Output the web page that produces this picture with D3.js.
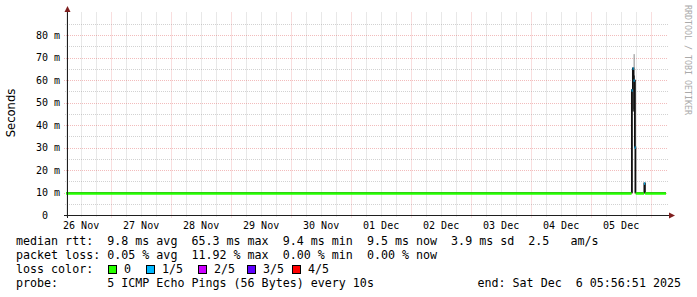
<!DOCTYPE html>
<html>
<head>
<meta charset="utf-8">
<script src="https://cdn.jsdelivr.net/npm/d3@7/dist/d3.min.js"></script>
<style>
body { margin: 0; background: #fff; }
svg text { white-space: pre; }
</style>
</head>
<body>
<script>
// time window of the graph
const startTime = new Date(2025, 10, 26, 5, 56, 51);
const endTime = new Date(2025, 11, 6, 5, 56, 51);

// median rtt, as steps (start time of each step), in ms
const medTimes = [
	startTime,
	new Date(2025, 11, 5, 16, 12),
	new Date(2025, 11, 5, 16, 36),
	new Date(2025, 11, 5, 17, 0),
	new Date(2025, 11, 5, 17, 24),
	new Date(2025, 11, 5, 17, 48),
	new Date(2025, 11, 5, 21, 12),
	new Date(2025, 11, 5, 21, 36)
];
const medValues = [9.8, 55.6, 65.3, 60.0, 30.2, 9.8, 14.2, 9.8];
const medLoss = [0, 1, 1, 1, 1, 0, 1, 0];

// smoke (ping spread) where it is visible
const smokeTimes = [
	new Date(2025, 11, 5, 16, 12),
	new Date(2025, 11, 5, 16, 36),
	new Date(2025, 11, 5, 17, 0),
	new Date(2025, 11, 5, 17, 24),
	new Date(2025, 11, 5, 21, 12)
];
const smokeLo = [9.8, 46, 47, 9.8, 9.8];
const smokeHi = [55.6, 65.3, 62, 60, 14.2];
const smokeMax = [55.6, 65.3, 71.5, 60, 14.2];

const lossNames = ['0', '1/5', '2/5', '3/5', '4/5'];
const lossColors = ['#26ff00', '#00b8ff', '#cc00ff', '#5e00ff', '#ff0000'];

const rttLine = 'median rtt:  9.8 ms avg  65.3 ms max  9.4 ms min  9.5 ms now  3.9 ms sd  2.5   am/s';
const lossLine = 'packet loss: 0.05 % avg  11.92 % max  0.00 % min  0.00 % now';
const probeLine = 'probe:       5 ICMP Echo Pings (56 Bytes) every 10s';
const endLine = 'end: Sat Dec  6 05:56:51 2025';

const W = 697, H = 297;
const plot = { left: 66, right: 666, top: 12.5, bottom: 215 };
const axisX = 67;

const svg = d3.select('body').append('svg')
	.attr('width', W)
	.attr('height', H)
	.style('font-family', 'DejaVu Sans Mono, monospace');

svg.append('rect').attr('width', W).attr('height', H).attr('fill', '#fff');

const x = d3.scaleTime().domain([startTime, endTime]).range([plot.left, plot.right]);
const y = d3.scaleLinear().domain([0, 90]).range([plot.bottom, plot.top]);

const gridColor = 'rgba(143,143,143,0.4)';
const mgridColor = 'rgba(222,79,79,0.38)';

// vertical grid
const minorTimes = d3.timeHour.every(6).range(startTime, endTime).filter(d => d.getHours() != 0);
const dayTimes = d3.timeDay.range(startTime, endTime);

svg.append('g').selectAll('line').data(minorTimes).enter().append('line')
	.attr('x1', d => Math.round(x(d)) + 0.5).attr('x2', d => Math.round(x(d)) + 0.5)
	.attr('y1', plot.top).attr('y2', plot.bottom + 2)
	.attr('stroke', gridColor).attr('stroke-dasharray', '1,1');
svg.append('g').selectAll('line').data(dayTimes).enter().append('line')
	.attr('x1', d => Math.round(x(d)) + 0.5).attr('x2', d => Math.round(x(d)) + 0.5)
	.attr('y1', plot.top).attr('y2', plot.bottom + 3)
	.attr('stroke', mgridColor).attr('stroke-dasharray', '1,1');

// horizontal grid
const minorVals = d3.range(5, 90, 10);
const majorVals = d3.range(10, 90, 10);
svg.append('g').selectAll('line').data(minorVals).enter().append('line')
	.attr('x1', axisX - 2).attr('x2', plot.right + 2)
	.attr('y1', d => Math.round(y(d)) + 0.5).attr('y2', d => Math.round(y(d)) + 0.5)
	.attr('stroke', gridColor).attr('stroke-dasharray', '1,1');
svg.append('g').selectAll('line').data(majorVals).enter().append('line')
	.attr('x1', axisX - 3).attr('x2', plot.right + 2)
	.attr('y1', d => Math.round(y(d)) + 0.5).attr('y2', d => Math.round(y(d)) + 0.5)
	.attr('stroke', mgridColor).attr('stroke-dasharray', '1,1');

// smoke
const binW = x(new Date(+smokeTimes[0] + 24 * 60000)) - x(smokeTimes[0]);
svg.append('g').selectAll('rect').data(smokeTimes).enter().append('rect')
	.attr('x', d => x(d)).attr('width', binW)
	.attr('y', (d, i) => y(smokeMax[i]))
	.attr('height', (d, i) => y(smokeLo[i]) - y(smokeMax[i]))
	.attr('fill', '#888');
svg.append('g').selectAll('rect').data(smokeTimes).enter().append('rect')
	.attr('x', d => x(d)).attr('width', binW)
	.attr('y', (d, i) => y(smokeHi[i]))
	.attr('height', (d, i) => y(smokeLo[i]) - y(smokeHi[i]))
	.attr('fill', '#111');

// median as a step line, then loss colored bands
const medPts = medTimes.map((t, i) => [t, medValues[i]]);
medPts.push([endTime, medValues[medValues.length - 1]]);
svg.append('path')
	.datum(medPts)
	.attr('fill', 'none')
	.attr('stroke', '#111')
	.attr('stroke-width', 1.3)
	.attr('d', d3.line().x(d => x(d[0])).y(d => y(d[1])).curve(d3.curveStepAfter));

svg.append('g').selectAll('rect').data(medTimes).enter().append('rect')
	.attr('x', d => x(d))
	.attr('width', (d, i) => x(i < medTimes.length - 1 ? medTimes[i + 1] : endTime) - x(d))
	.attr('y', (d, i) => y(medValues[i]) - 0.7)
	.attr('height', 2.5)
	.attr('fill', (d, i) => lossColors[medLoss[i]]);

// axes
const axisColor = '#1f1f1f';
const arrowColor = '#7f1f1f';
svg.append('line').attr('x1', axisX + 0.5).attr('x2', axisX + 0.5)
	.attr('y1', plot.bottom + 3).attr('y2', 10).attr('stroke', axisColor);
svg.append('line').attr('x1', axisX - 3).attr('x2', 670)
	.attr('y1', plot.bottom + 0.5).attr('y2', plot.bottom + 0.5).attr('stroke', axisColor);
svg.append('path').attr('d', `M${axisX + 0.5},6 L${axisX - 2.5},12 L${axisX + 3.5},12 Z`).attr('fill', arrowColor);
svg.append('path').attr('d', `M675,${plot.bottom + 0.5} L669,${plot.bottom - 2.5} L669,${plot.bottom + 3.5} Z`).attr('fill', arrowColor);

// y tick labels
const yTicks = d3.range(0, 90, 10);
svg.append('g').selectAll('text').data(yTicks).enter().append('text')
	.attr('x', 60)
	.attr('y', d => y(d) + 3.5)
	.attr('text-anchor', 'end')
	.attr('font-size', 10)
	.attr('fill', '#000')
	.text(d => d == 0 ? '0  ' : d + ' m');

// x tick labels at noon
const noonTimes = dayTimes.map(d => d3.timeHour.offset(d, 12)).concat([d3.timeHour.offset(d3.timeDay.floor(startTime), 12)])
	.filter(d => d > startTime && d < endTime);
svg.append('g').selectAll('text').data(noonTimes).enter().append('text')
	.attr('x', d => x(d))
	.attr('y', 228.5)
	.attr('text-anchor', 'middle')
	.attr('font-size', 10)
	.attr('fill', '#000')
	.text(d => d3.timeFormat('%d %b')(d));

// y title
svg.append('text')
	.attr('transform', 'translate(15,113) rotate(-90)')
	.attr('text-anchor', 'middle')
	.style('font-family', 'DejaVu Sans, sans-serif')
	.attr('font-size', 11.6)
	.text('Seconds');

// watermark
svg.append('text')
	.attr('transform', 'translate(685,5) rotate(90)')
	.attr('font-size', 8.3)
	.attr('fill', '#aaa')
	.text('RRDTOOL / TOBI OETIKER');

// legend
const lg = svg.append('g').attr('font-size', 11.67).attr('fill', '#000');
lg.append('text').attr('x', 16).attr('y', 244.5).text(rttLine);
lg.append('text').attr('x', 16).attr('y', 258.5).text(lossLine);
lg.append('text').attr('x', 16).attr('y', 272.5).text('loss color:');
lg.append('text').attr('x', 16).attr('y', 286.5).text(probeLine);
lg.append('text').attr('x', 681).attr('y', 286.5).attr('text-anchor', 'end').text(endLine);

const boxX = [108, 146, 198, 247, 292];
lossNames.forEach(function(n, i) {
	lg.append('rect')
		.attr('x', boxX[i] + 0.5).attr('y', 265.5)
		.attr('width', 8).attr('height', 8)
		.attr('fill', lossColors[i]).attr('stroke', '#000');
	lg.append('text').attr('x', boxX[i] + 16).attr('y', 272.5).text(n);
});
</script>
</body>
</html>
